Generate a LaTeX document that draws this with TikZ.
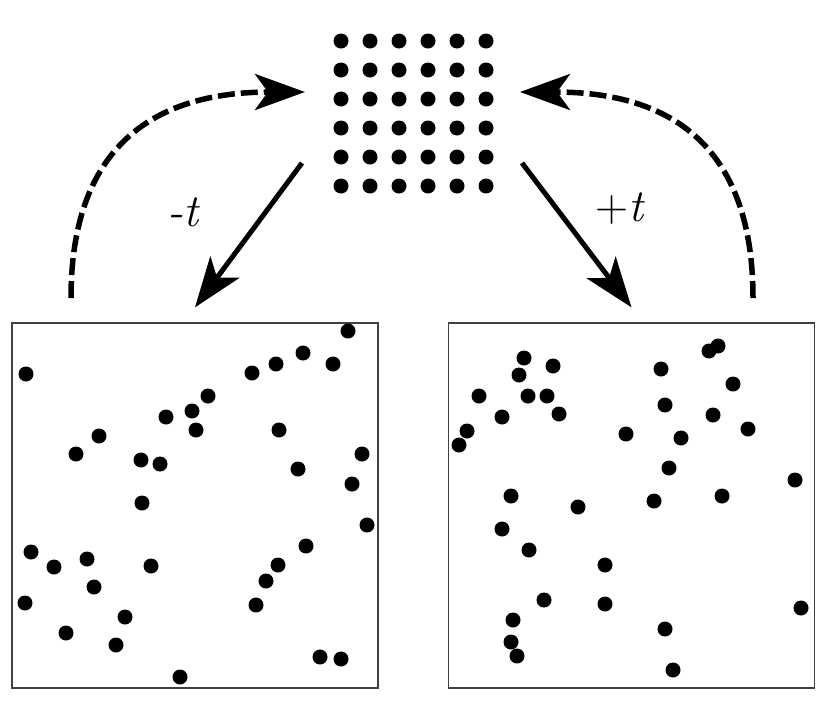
\documentclass[tikz,border=0pt]{standalone}
\usepackage{fontspec}
\usetikzlibrary{arrows.meta}

\begin{document}
\begin{tikzpicture}[x=1pt,y=-1pt,
      >={Stealth[length=50pt,width=36pt,inset=13pt]},
      dot/.style={circle,fill,inner sep=0pt,minimum size=15pt},
      frame/.style={draw=black!75,line width=1.3pt,inner sep=0pt,
        minimum width=366pt,minimum height=365pt},
      evolve/.style={->,line width=5pt},
      reverse/.style={->,line width=5.5pt,dash pattern=on 17pt off 6pt},
      lbl/.style={font=\fontsize{46}{54}\selectfont}]
      \useasboundingbox (0,0) rectangle (830,710);

      % ordered lattice
      \foreach \i in {0,...,5}
        \foreach \j in {0,...,5}
          \node[dot] (g\i\j) at (341+29*\i, 41+29*\j) {};

      \node[frame] (past) at (195,505.5) {};
      \node[frame] (future) at (631.5,505.5) {};

      % scattered positions at -t
      \foreach \x/\y [count=\n] in {348/331, 26/374, 303/353, 276/364, 333/364,
          252/373, 208/396, 192/411, 166/417, 196/430, 279/430, 99/436,
          76/454, 141/460, 160/464, 362/454, 298/469, 352/484, 142/503,
          367/525, 306/546, 31/552, 87/559, 54/567, 151/566, 278/565,
          266/581, 94/587, 25/603, 256/605, 125/617, 66/633, 116/645,
          320/657, 341/659, 180/677}
        \node[dot] (a\n) at (\x,\y) {};

      % scattered positions at +t
      \foreach \x/\y [count=\n] in {718/346, 709/351, 524/358, 553/366, 661/369,
          519/375, 733/384, 479/396, 528/396, 547/396, 665/405, 713/415,
          559/414, 502/417, 467/431, 459/445, 748/429, 626/434, 681/438,
          669/468, 795/480, 511/496, 722/496, 654/501, 578/507, 502/529,
          529/550, 605/565, 544/600, 605/604, 801/608, 513/620, 665/629,
          511/642, 517/656, 673/670}
        \node[dot] (b\n) at (\x,\y) {};

      \coordinate (outL) at (302,163);
      \coordinate (outR) at (522,163);
      \coordinate (backL) at (71,298);
      \coordinate (backR) at (753,298);
      \coordinate (inL) at (305,92);
      \coordinate (inR) at (520,92);

      \draw[evolve] (outL) -- ([yshift=15pt]past.north);
      \draw[evolve] (outR) -- ([yshift=15pt]future.north);

      \draw[reverse] (backL) .. controls +(0,-148) and +(-155,0) .. (inL);
      \draw[reverse] (backR) .. controls +(0,-148) and +(155,0) .. (inR);

      \node[lbl] (minus) at (184,212) {\textit{-t}};
      \node[lbl] (plus) at (620,209) {+\textit{t}};

      \end{tikzpicture}
\end{document}
